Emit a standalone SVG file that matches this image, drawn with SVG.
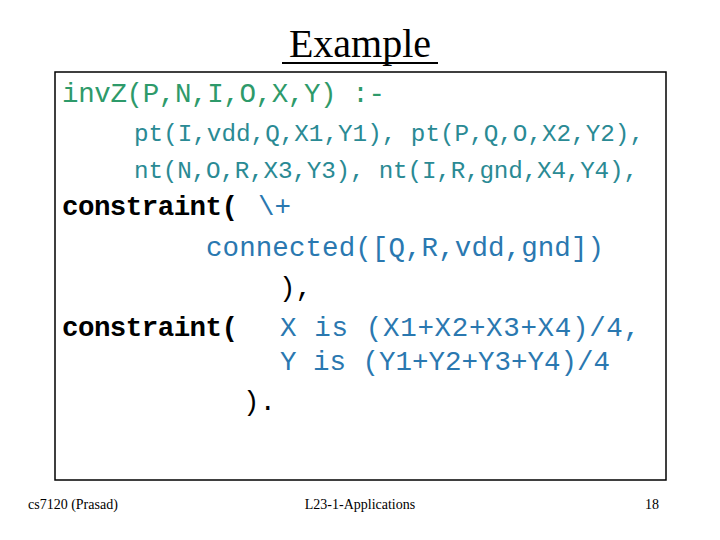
<svg xmlns="http://www.w3.org/2000/svg" width="720" height="540" viewBox="0 0 720 540">
<style>
.m{font-family:"Liberation Mono","Courier New",monospace;font-size:27.5px;white-space:pre}
.g{fill:#2e9a6a}.t{fill:#2a8a94}.b{fill:#2a78b0}.k{fill:#000;font-weight:bold}.p{fill:#000}
.f{font-family:"Liberation Serif","Times New Roman",serif;font-size:14px;fill:#000}
</style>
<rect width="720" height="540" fill="#fff"/>
<g id="title">
<text x="360" y="57" text-anchor="middle" font-family="Liberation Serif,serif" font-size="40" fill="#000">Example</text>
<line x1="282" y1="63" x2="438" y2="63" stroke="#000" stroke-width="2"/>
</g>
<g id="box">
<rect x="55" y="72" width="611" height="408" fill="none" stroke="#000" stroke-width="1.5"/>
<text class="m g" x="62" y="102" textLength="323" xml:space="preserve">invZ(P,N,I,O,X,Y) :-</text>
<text class="m t" x="134" y="141" style="font-size:24.3px" textLength="510" xml:space="preserve">pt(I,vdd,Q,X1,Y1), pt(P,Q,O,X2,Y2),</text>
<text class="m t" x="134" y="178" style="font-size:24.3px" textLength="504" xml:space="preserve">nt(N,O,R,X3,Y3), nt(I,R,gnd,X4,Y4),</text>
<text class="m k" x="62" y="215" textLength="176">constraint(</text>
<text class="m b" x="258" y="215">\+</text>
<text class="m b" x="206" y="256" textLength="398">connected([Q,R,vdd,gnd])</text>
<text class="m p" x="279" y="296">),</text>
<text class="m k" x="62" y="336" textLength="176">constraint(</text>
<text class="m b" x="280" y="336" textLength="360" xml:space="preserve">X is (X1+X2+X3+X4)/4,</text>
<text class="m b" x="280" y="370" textLength="330" xml:space="preserve">Y is (Y1+Y2+Y3+Y4)/4</text>
<text class="m p" x="243" y="410">).</text>
</g>
<g id="footer">
<text class="f" x="28" y="509">cs7120 (Prasad)</text>
<text class="f" x="360" y="509" text-anchor="middle">L23-1-Applications</text>
<text class="f" x="659" y="509" text-anchor="end">18</text>
</g>
</svg>
